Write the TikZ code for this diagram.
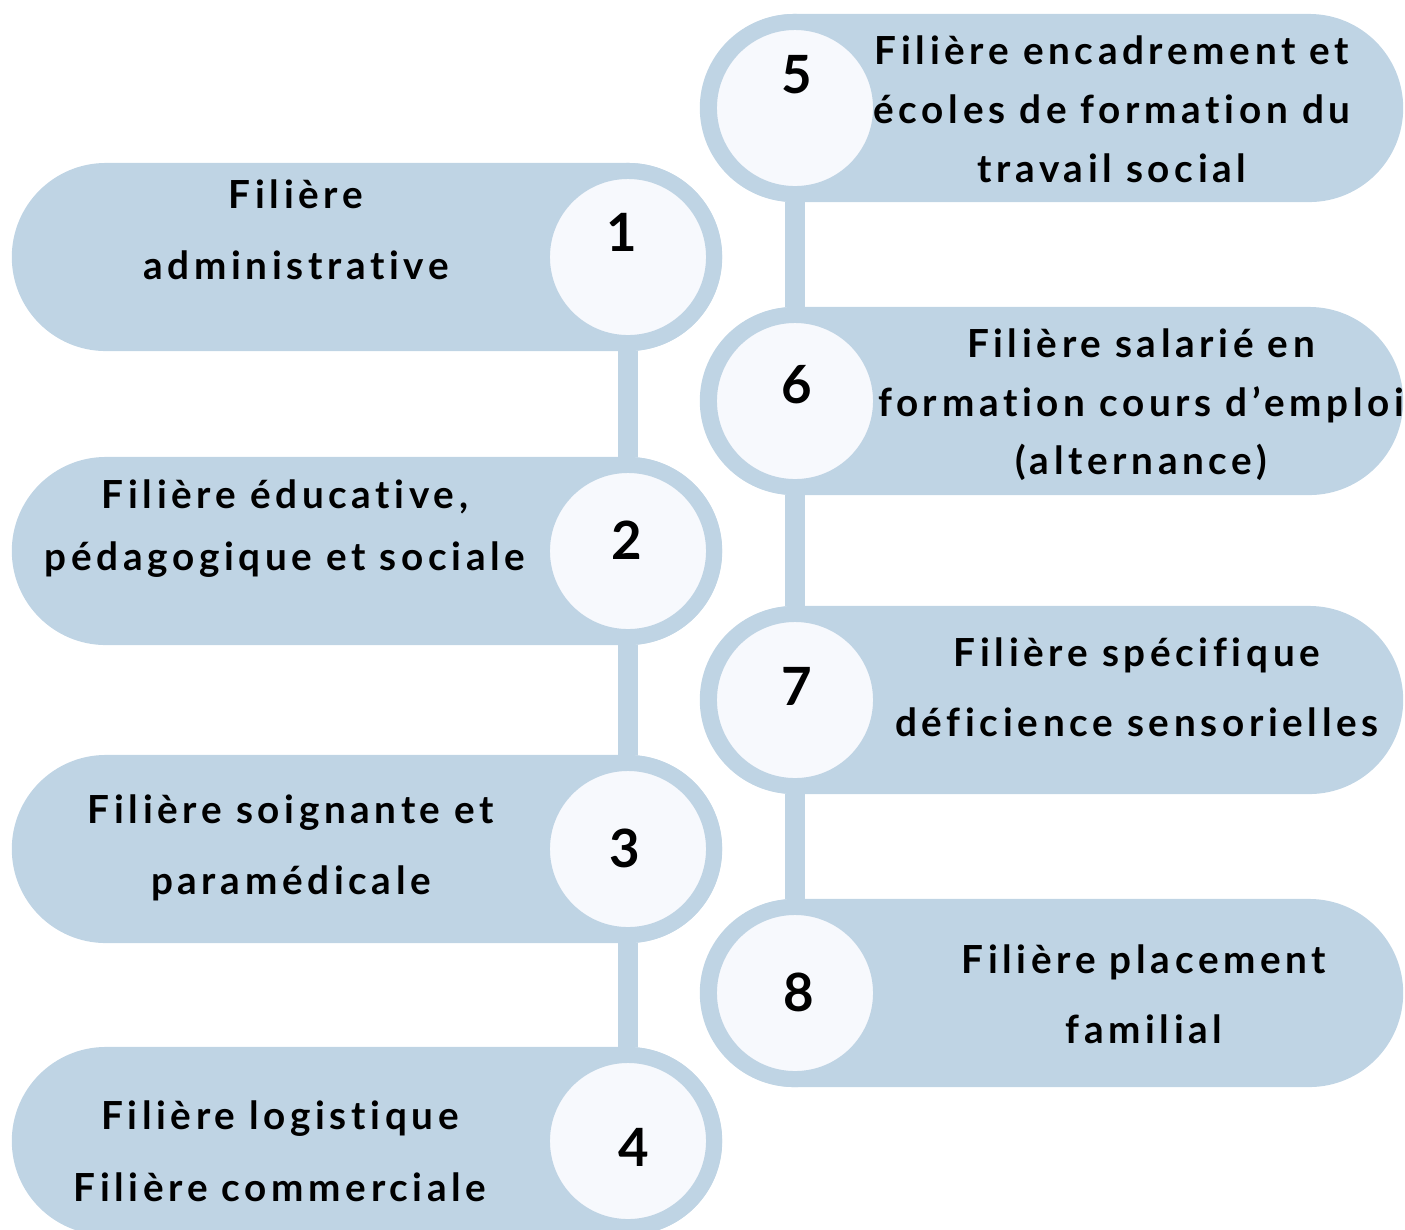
\documentclass[tikz,border=0pt]{standalone}
\usepackage{fontspec}
\newfontfamily\lblfont[LetterSpace=12,Ligatures=NoCommon]{Lato}
\newfontfamily\numfont{Lato}
\begin{document}
\begin{tikzpicture}[x=0.01cm,y=-0.01cm,
  pill/.style={fill=pillcolor,rounded corners=9.4mm,minimum width=71mm,minimum height=18.8mm,inner sep=0},
  rpill/.style={pill,minimum width=70.3mm},
  ring/.style={circle,fill=innercolor,draw=pillcolor,line width=1.6mm,minimum size=17.2mm,inner sep=0},
  link/.style={draw=pillcolor,line width=1.9mm},
  lbl/.style={font=\lblfont\bfseries\fontsize{11}{#1}\selectfont,align=center,inner sep=0,text=textcolor},
  num/.style={font=\numfont\bfseries\fontsize{15}{18}\selectfont,inner sep=0,text=textcolor}]
\definecolor{pillcolor}{RGB}{191,212,228}
\definecolor{innercolor}{RGB}{247,249,253}
\definecolor{textcolor}{RGB}{0,0,0}
\useasboundingbox (0,0) rectangle (1405,1229);
\node [pill] (p1) at (367,257) {};
\node [pill] (p2) at (367,551) {};
\node [pill] (p3) at (367,849) {};
\node [pill] (p4) at (367,1141) {};
\node [rpill] (p5) at (1051.5,108) {};
\node [rpill] (p6) at (1051.5,401) {};
\node [rpill] (p7) at (1051.5,700) {};
\node [rpill] (p8) at (1051.5,993) {};
\node [ring] (c1) at (628,257) {};
\node [ring] (c2) at (628,551) {};
\node [ring] (c3) at (628,849) {};
\node [ring] (c4) at (628,1141) {};
\node [ring] (c5) at (795,108) {};
\node [ring] (c6) at (795,401) {};
\node [ring] (c7) at (795,700) {};
\node [ring] (c8) at (795,993) {};
\draw [link] (c1) -- (c2);
\draw [link] (c2) -- (c3);
\draw [link] (c3) -- (c4);
\draw [link] (c5) -- (c6);
\draw [link] (c6) -- (c7);
\draw [link] (c7) -- (c8);
\node [num] (n1) at (622,232) {1};
\node [num] (n2) at (627,540) {2};
\node [num] (n3) at (625,848) {3};
\node [num] (n4) at (634,1147) {4};
\node [num] (n5) at (797,75) {5};
\node [num] (n6) at (797,385) {6};
\node [num] (n7) at (797,686) {7};
\node [num] (n8) at (799,992) {8};
\node [lbl=20.2pt] (t1) at (296,230) {Filière\\administrative};
\node [lbl=17.6pt] (t2) at (285,529) {Filière éducative,\\pédagogique et sociale};
\node [lbl=20.2pt] (t3) at (291,848) {Filière soignante et\\paramédicale};
\node [lbl=20.5pt] (t4) at (280,1151) {Filière logistique\\Filière commerciale};
\node [lbl=16.8pt] (t5) at (1112,109) {Filière encadrement et\\écoles de formation du\\travail social};
\node [lbl=16.6pt] (t6) at (1141,405) {Filière salarié en\\formation cours d’emploi\\(alternance)};
\node [lbl=19.9pt] (t7) at (1137,687) {Filière spécifique\\déficience sensorielles};
\node [lbl=19.9pt] (t8) at (1144,994) {Filière placement\\familial};
\end{tikzpicture}
\end{document}
